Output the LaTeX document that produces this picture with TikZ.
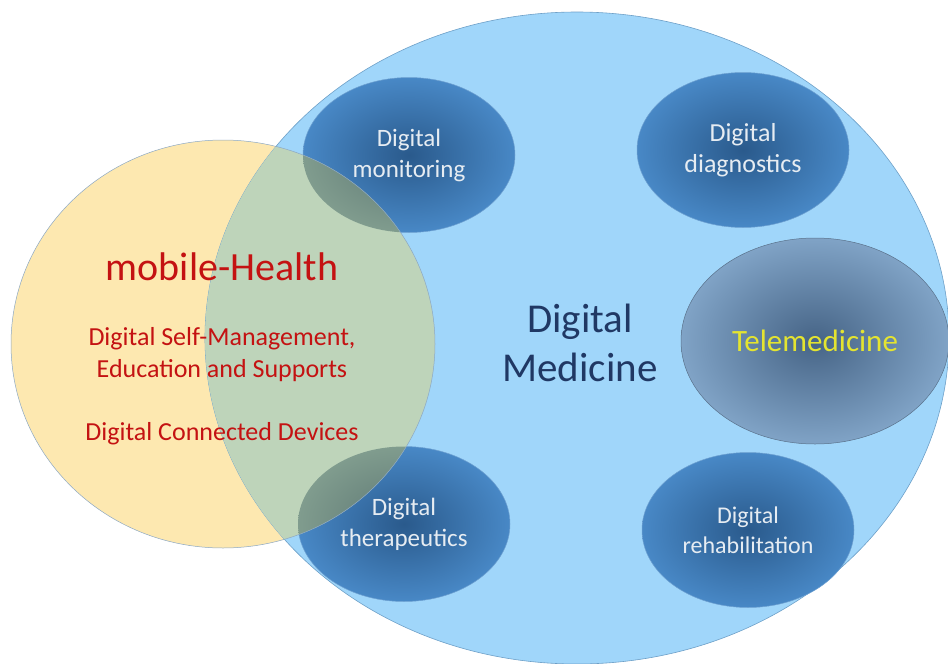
\documentclass[tikz,border=0pt]{standalone}
\usepackage{fontspec}
\setmainfont{Carlito}
\usepackage{xcolor}
\usepackage{tikz}
\usetikzlibrary{shapes.geometric, positioning}

\definecolor{medblue}{RGB}{160,214,250}
\definecolor{mededge}{RGB}{110,160,200}
\definecolor{topicin}{RGB}{42,90,140}
\definecolor{topicout}{RGB}{72,136,198}
\definecolor{teleout}{RGB}{128,163,198}
\definecolor{telein}{RGB}{70,100,134}
\definecolor{mhyellow}{RGB}{253,232,176}
\definecolor{mhgreen}{RGB}{190,212,186}
\definecolor{mhedge}{RGB}{140,168,196}
\definecolor{ovin}{RGB}{92,118,114}
\definecolor{ovout}{RGB}{128,156,142}
\definecolor{mhred}{RGB}{196,18,18}
\definecolor{mednavy}{RGB}{32,56,100}
\definecolor{teleyellow}{RGB}{228,228,48}
\definecolor{topictext}{RGB}{230,236,242}

\begin{document}
\begin{tikzpicture}[x=1pt, y=-1pt,
    field/.style={ellipse, draw=mededge, line width=0.6pt, fill=medblue, inner sep=0pt},
    topic/.style={ellipse, draw=topicout!80!white, line width=0.5pt, inner color=topicin, outer color=topicout,
        minimum width=212pt, minimum height=155pt, inner sep=0pt, align=center, text=topictext,
        font=\fontsize{25}{31}\selectfont},
    mhealth/.style={ellipse, minimum width=424pt, minimum height=408pt, inner sep=0pt},
    redtext/.style={text=mhred, align=center, font=\fontsize{26}{32}\selectfont}]

    \useasboundingbox (0,0) rectangle (948,664);

    % mobile-Health circle (under the rest)
    \node[mhealth, fill=mhyellow] (mh) at (223,344) {};

    % Digital medicine ellipse
    \node[field, minimum width=744pt, minimum height=652pt] (medicine) at (577,338) {};

    % Digital topics
    \node[topic] (monitoring) at (409,155) {Digital\\monitoring};
    \node[topic, font=\fontsize{26}{31}\selectfont] (diagnostics) at (743,150) {Digital\\diagnostics};
    \node[topic] (therapeutics) at (404,524) {Digital\\therapeutics};
    \node[topic, font=\fontsize{24}{30}\selectfont] (rehab) at (748,530) {Digital\\rehabilitation};

    % Telemedicine
    \node[topic, inner color=telein, outer color=teleout, draw=teleout!70!black,
        minimum width=268pt, minimum height=206pt, text=teleyellow,
        font=\fontsize{31}{36}\selectfont] (tele) at (815,341) {Telemedicine};

    % overlaps inside the mobile-Health circle
    \node[mhealth, draw=mhedge, line width=0.5pt, path picture={
        \fill[mhgreen] (medicine.center) ellipse [x radius=372, y radius=326];
        \shade[inner color=ovin, outer color=ovout] (monitoring.center) ellipse [x radius=106, y radius=77.5];
        \shade[inner color=ovin, outer color=ovout] (therapeutics.center) ellipse [x radius=106, y radius=77.5];
    }] (mhover) at (mh.center) {};

    % mobile-Health labels
    \node[text=mhred, font=\fontsize{40}{46}\selectfont] (mhtitle) at (222,267) {mobile-Health};
    \node[redtext] (selfmgmt) at (222,355) {Digital Self-Management,\\Education and Supports};
    \node[redtext] (devices) at (222,434) {Digital Connected Devices};

    % Digital medicine label
    \node[text=mednavy, align=center, font=\fontsize{41}{49}\selectfont] (medlabel) at (580,343) {Digital\\Medicine};

\end{tikzpicture}
\end{document}
